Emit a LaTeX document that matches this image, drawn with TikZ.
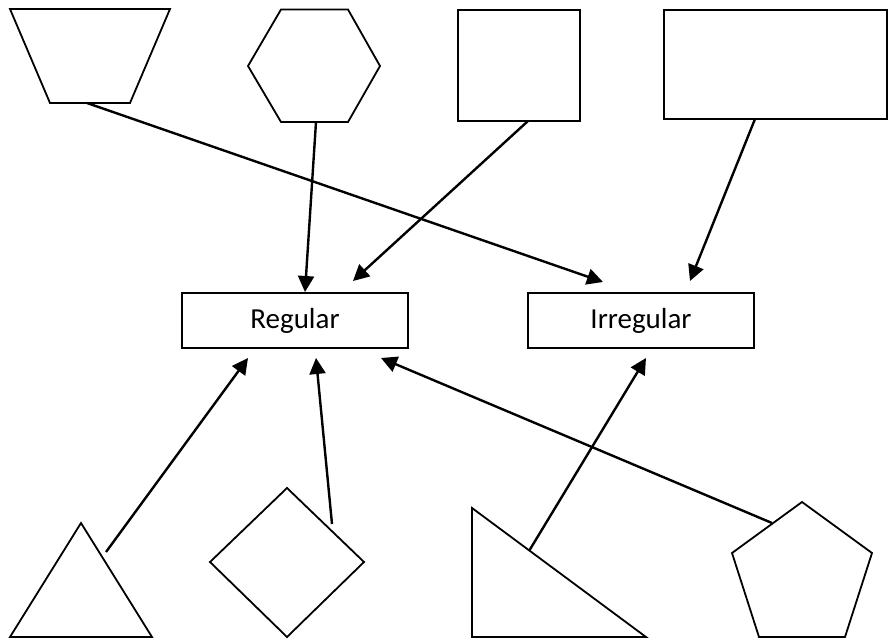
\documentclass[tikz,border=0pt]{standalone}
\usepackage{fontspec}
\setmainfont{Carlito}
\usetikzlibrary{arrows.meta}
\begin{document}
\begin{tikzpicture}[x=1pt,y=-1pt,
  shapeline/.style={draw=black,line width=1.8pt,line join=miter},
  catbox/.style={draw=black,line width=1.8pt,minimum width=226pt,minimum height=55pt,inner sep=0pt,font=\fontsize{29}{34}\selectfont},
  link/.style={line width=2.4pt,-{Triangle[length=16pt,width=16pt]}}]
\useasboundingbox (0,0) rectangle (888,639);
% top shapes
\draw[shapeline] (10,9) -- (170,9) -- (130,103) -- (50,103) -- cycle;
\draw[shapeline] (281,9.5) -- (348,9.5) -- (380,66) -- (348,122) -- (281,122) -- (248,66) -- cycle;
\draw[shapeline] (458,10) rectangle (580,121);
\draw[shapeline] (664,10) rectangle (887,119);
% bottom shapes
\draw[shapeline] (81,523) -- (152,637) -- (10,637) -- cycle;
\draw[shapeline] (287,488) -- (364,562) -- (287,637) -- (210,562) -- cycle;
\draw[shapeline] (472,508) -- (646,637) -- (472,637) -- cycle;
\draw[shapeline] (802,502) -- (872,553) -- (845,637) -- (759,637) -- (732,553) -- cycle;
% category boxes
\node[catbox] (reg) at (295,320.5) {Regular};
\node[catbox] (irr) at (641,320.5) {Irregular};
% connector endpoints
\coordinate (trapS) at (87,103);
\coordinate (hexS) at (316,122);
\coordinate (sqS) at (528,121);
\coordinate (recS) at (755,119);
\coordinate (triS) at (106,552);
\coordinate (diaS) at (332,524);
\coordinate (rtS) at (529,551);
\coordinate (penS) at (772,523);
\coordinate (regA) at (305,292);
\coordinate (regB) at (353,281);
\coordinate (regC) at (248,358);
\coordinate (regD) at (316,358);
\coordinate (regE) at (381,358);
\coordinate (irrA) at (603,282);
\coordinate (irrB) at (690,281);
\coordinate (irrC) at (646,358);
% connectors
\draw[link] (trapS) -- (irrA);
\draw[link] (hexS) -- (regA);
\draw[link] (sqS) -- (regB);
\draw[link] (recS) -- (irrB);
\draw[link] (triS) -- (regC);
\draw[link] (diaS) -- (regD);
\draw[link] (rtS) -- (irrC);
\draw[link] (penS) -- (regE);
\end{tikzpicture}
\end{document}
